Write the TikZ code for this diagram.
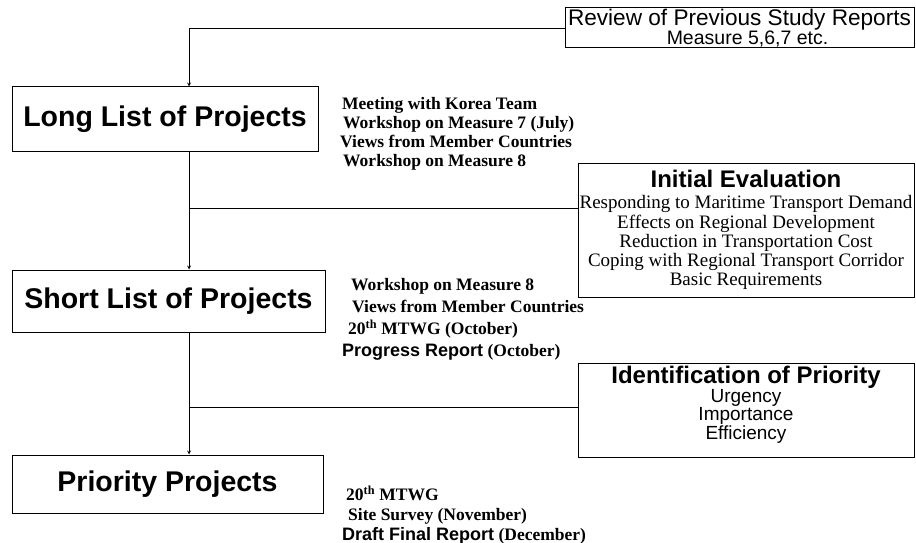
\documentclass[tikz,border=0pt]{standalone}
\usepackage{fontspec}
\setmainfont{Liberation Serif}
\setsansfont{Liberation Sans}
\usepackage{tikz}
\usetikzlibrary{calc}

\begin{document}
\begin{tikzpicture}[x=1pt, y=-1pt,
		stagebox/.style={draw, line width=1pt, inner sep=0pt, align=center,
			font=\sffamily\bfseries\fontsize{28.5}{32}\selectfont},
		sourcebox/.style={draw, line width=1pt, inner sep=0pt, align=center},
		notes/.style={anchor=north west, inner sep=0pt, align=left,
			font=\rmfamily\bfseries\fontsize{17.5}{19}\selectfont},
		link/.style={line width=0.8pt}]
			\def\W{916};
			\def\H{543};
			\def\spineX{189};

			\useasboundingbox (0,0) rectangle (\W,\H);

			\begin{scope}
				\node [stagebox, minimum width=306pt, minimum height=64pt] (longlist) at (165,119) {Long List of Projects};
				\node [stagebox, minimum width=313pt, minimum height=62pt] (shortlist) at (168.5,301) {Short List of Projects};
				\node [stagebox, minimum width=311pt, minimum height=58pt] (priority) at (167.5,484) {Priority Projects};
			\end{scope}

			\begin{scope}
				\node [sourcebox, minimum width=349pt, minimum height=40pt, font=\sffamily\fontsize{22.6}{19}\selectfont] (review) at (739.5,28)
					{Review of Previous Study Reports\\ {\fontsize{19.5}{19}\selectfont\hspace*{16pt}Measure 5,6,7 etc.}};
				\node [sourcebox, minimum width=336pt, minimum height=134pt, font=\rmfamily\fontsize{19}{19.3}\selectfont] (initeval) at (746,230)
					{{\sffamily\bfseries\fontsize{24}{24}\selectfont Initial Evaluation}\\[2pt]
					Responding to Maritime Transport Demand\\
					Effects on Regional Development\\
					Reduction in Transportation Cost\\
					Coping with Regional Transport Corridor\\
					Basic Requirements};
				\node [sourcebox, minimum width=336pt, minimum height=94pt, font=\sffamily\fontsize{19}{18.5}\selectfont] (identif) at (746,410)
					{{\bfseries\fontsize{24}{24}\selectfont Identification of Priority}\\[0pt]
					Urgency\\
					Importance\\
					Efficiency\\[-4pt]\mbox{}};
			\end{scope}

			\begin{scope}
				\node [notes] (notesA) at (340,97)
					{\hspace*{2pt}Meeting with Korea Team\\
					\hspace*{3pt}Workshop on Measure 7 (July)\\
					Views from Member Countries\\
					\hspace*{3pt}Workshop on Measure 8};
				\node [notes, font=\rmfamily\bfseries\fontsize{17.5}{22}\selectfont] (notesB) at (342,278)
					{\hspace*{9pt}Workshop on Measure 8\\
					\hspace*{10pt}Views from Member Countries\\
					\hspace*{6pt}20\textsuperscript{th} MTWG (October)\\
					{\sffamily\fontsize{18}{22}\selectfont Progress Report} (October)};
				\node [notes, font=\rmfamily\bfseries\fontsize{17.5}{20}\selectfont] (notesC) at (342,486)
					{\hspace*{4pt}20\textsuperscript{th} MTWG\\
					\hspace*{6pt}Site Survey (November)\\
					{\sffamily\fontsize{18}{20}\selectfont Draft Final Report} (December)};
			\end{scope}

			\coordinate (spine) at (\spineX,0);
			\coordinate (evalfork) at (\spineX,208);
			\coordinate (priofork) at (\spineX,407);

			\begin{scope}[link, -stealth]
				\draw (review.west) -| (spine |- longlist.north);
				\draw (spine |- longlist.south) -- (spine |- shortlist.north);
				\draw (spine |- shortlist.south) -- (spine |- priority.north);
			\end{scope}

			\begin{scope}[link]
				\draw (evalfork) -- (evalfork -| initeval.west);
				\draw (priofork) -- (priofork -| identif.west);
			\end{scope}
		\end{tikzpicture}
\end{document}
